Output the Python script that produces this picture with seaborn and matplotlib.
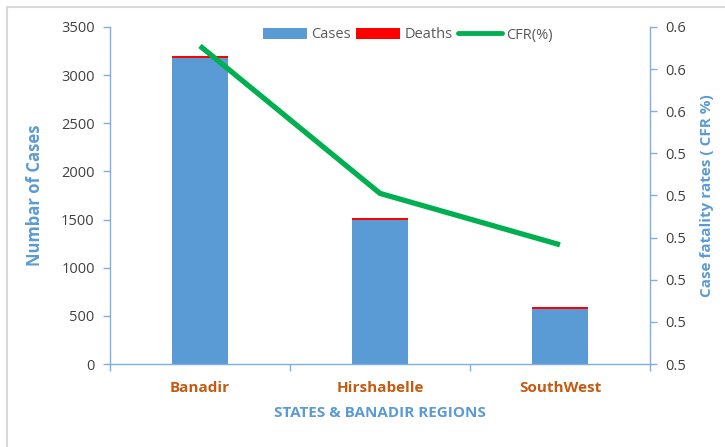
import matplotlib
matplotlib.use("Agg")
import matplotlib.pyplot as plt
import seaborn as sns
import pandas as pd
from matplotlib.patches import Patch, Rectangle
from matplotlib.lines import Line2D

regions = ["Banadir", "Hirshabelle", "SouthWest"]
cases = [3180, 1500, 576]
deaths = [18, 12, 11]
cfr = [0.5755, 0.5405, 0.5283]
left_ticks = [0, 500, 1000, 1500, 2000, 2500, 3000, 3500]
right_ticks = [0.50, 0.51, 0.52, 0.53, 0.54, 0.55, 0.56, 0.57, 0.58]
right_tick_labels = ["0.5", "0.5", "0.5", "0.5", "0.5", "0.5", "0.6", "0.6", "0.6"]

sns.set_theme(style="white")
plt.rcParams['font.family'] = ['Open Sans', 'DejaVu Sans']

BLUE = "#5B9BD5"
RED = "#FF0000"
GREEN = "#00B050"
ORANGE = "#C55A11"
AXBLUE = "#7FAEE0"
TXT = "#404040"

df = pd.DataFrame({"region": regions, "cases": cases, "deaths": deaths, "cfr": cfr})
df["total"] = df["cases"] + df["deaths"]
df["pos"] = range(len(regions))

fig = plt.figure(figsize=(7.25, 4.47), dpi=100)
ax = fig.add_axes([110/725, 1-364/447, 540/725, 337/447])

sns.barplot(data=df, x="region", y="total", color=RED, width=0.31, ax=ax,
            saturation=1, linewidth=0)
sns.barplot(data=df, x="region", y="cases", color=BLUE, width=0.31, ax=ax,
            saturation=1, linewidth=0)

ax.set_xlim(-0.5, 2.5)
ax.set_ylim(0, 3500)
ax.set_yticks(left_ticks)
ax.set_yticklabels([str(v) for v in left_ticks])
ax.tick_params(axis="y", labelsize=10.5, colors=TXT, length=5, width=1,
               direction="out", left=True, color=AXBLUE, pad=6)
ax.set_xticks(range(len(regions)))
ax.set_xticklabels(regions, fontsize=11, fontweight="bold", color=ORANGE)
ax.tick_params(axis="x", length=0, pad=12)
ax.set_xticks([-0.5, 0.5, 1.5, 2.5], minor=True)
ax.tick_params(axis="x", which="minor", length=5, width=1, color=AXBLUE, direction="out", bottom=True)
ax.set_xlabel("STATES & BANADIR REGIONS", fontsize=11, fontweight="bold", color=BLUE, labelpad=8)
ax.set_ylabel("Numbar of Cases", fontsize=12, fontweight="bold", color=BLUE, labelpad=12)
for s in ["top", "right"]:
    ax.spines[s].set_visible(False)
for s in ["left", "bottom"]:
    ax.spines[s].set_color(AXBLUE)
    ax.spines[s].set_linewidth(1)

ax2 = ax.twinx()
sns.lineplot(data=df, x="pos", y="cfr", color=GREEN, linewidth=3.8, ax=ax2,
             solid_capstyle="butt")
ax2.set_ylim(0.50, 0.58)
ax2.set_yticks(right_ticks)
ax2.set_yticklabels(right_tick_labels)
ax2.tick_params(axis="y", labelsize=10.5, colors=TXT, length=5, width=1,
                direction="out", right=True, color=AXBLUE, pad=6)
ax2.set_ylabel("Case fatality rates ( CFR %)", fontsize=11, fontweight="bold", color=BLUE, labelpad=10)
ax2.set_xlabel("")
for s in ["top", "left", "bottom"]:
    ax2.spines[s].set_visible(False)
ax2.spines["right"].set_color(AXBLUE)
ax2.spines["right"].set_linewidth(1)
ax2.set_xlim(-0.5, 2.5)

handles = [Patch(facecolor=BLUE, edgecolor="none"),
           Patch(facecolor=RED, edgecolor="none"),
           Line2D([0], [0], color=GREEN, linewidth=3.5)]
leg = fig.legend(handles, ["Cases", "Deaths", "CFR(%)"], loc="center",
                 bbox_to_anchor=(408/725, 1-35/447), ncol=3, frameon=False,
                 fontsize=10.5, handlelength=3.0, handleheight=0.7,
                 columnspacing=0.4, handletextpad=0.3, labelcolor="#595959")

fig.patches.append(Rectangle((7/725, -0.1), 1.0, 1 - 7/447 + 0.1, transform=fig.transFigure,
                             fill=False, edgecolor="#D9D9D9", linewidth=1.5))

fig.savefig("out.png", dpi=100)
